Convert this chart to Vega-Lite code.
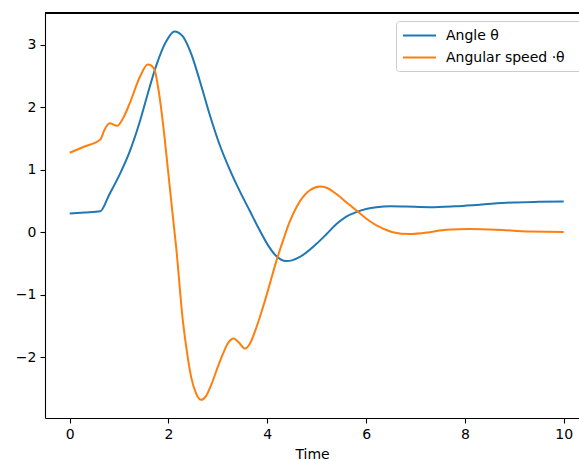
{
  "$schema": "https://vega.github.io/schema/vega-lite/v6.json",
  "autosize": {"type": "none"},
  "padding": {"left": 45, "top": 13, "right": 0, "bottom": 43},
  "width": 534,
  "height": 405,
  "background": "white",
  "config": {
    "view": {"stroke": null},
    "font": "DejaVu Sans",
    "axis": {
      "grid": false,
      "domainColor": "black",
      "domainWidth": 1.1,
      "tickColor": "black",
      "tickWidth": 1.1,
      "tickSize": 5,
      "labelFont": "DejaVu Sans",
      "labelFontSize": 14,
      "labelColor": "black",
      "labelPadding": 4,
      "titleFont": "DejaVu Sans",
      "titleFontSize": 14,
      "titleFontWeight": "normal",
      "titleColor": "black",
      "titlePadding": 6
    }
  },
  "data": {
    "values": [
      {"t": 0, "v": 0.30, "s": "Angle θ"},
      {"t": 0.3, "v": 0.315, "s": "Angle θ"},
      {"t": 0.62, "v": 0.335, "s": "Angle θ"},
      {"t": 0.8, "v": 0.60, "s": "Angle θ"},
      {"t": 1.01, "v": 0.92, "s": "Angle θ"},
      {"t": 1.21, "v": 1.28, "s": "Angle θ"},
      {"t": 1.42, "v": 1.77, "s": "Angle θ"},
      {"t": 1.55, "v": 2.13, "s": "Angle θ"},
      {"t": 1.75, "v": 2.66, "s": "Angle θ"},
      {"t": 1.96, "v": 3.06, "s": "Angle θ"},
      {"t": 2.12, "v": 3.21, "s": "Angle θ"},
      {"t": 2.29, "v": 3.13, "s": "Angle θ"},
      {"t": 2.46, "v": 2.85, "s": "Angle θ"},
      {"t": 2.63, "v": 2.43, "s": "Angle θ"},
      {"t": 2.83, "v": 1.89, "s": "Angle θ"},
      {"t": 3.03, "v": 1.41, "s": "Angle θ"},
      {"t": 3.24, "v": 1.00, "s": "Angle θ"},
      {"t": 3.44, "v": 0.66, "s": "Angle θ"},
      {"t": 3.64, "v": 0.35, "s": "Angle θ"},
      {"t": 3.8, "v": 0.10, "s": "Angle θ"},
      {"t": 4.0, "v": -0.19, "s": "Angle θ"},
      {"t": 4.18, "v": -0.38, "s": "Angle θ"},
      {"t": 4.38, "v": -0.46, "s": "Angle θ"},
      {"t": 4.5, "v": -0.45, "s": "Angle θ"},
      {"t": 4.65, "v": -0.40, "s": "Angle θ"},
      {"t": 4.99, "v": -0.19, "s": "Angle θ"},
      {"t": 5.2, "v": -0.03, "s": "Angle θ"},
      {"t": 5.4, "v": 0.13, "s": "Angle θ"},
      {"t": 5.6, "v": 0.25, "s": "Angle θ"},
      {"t": 5.8, "v": 0.32, "s": "Angle θ"},
      {"t": 6.0, "v": 0.37, "s": "Angle θ"},
      {"t": 6.21, "v": 0.40, "s": "Angle θ"},
      {"t": 6.5, "v": 0.415, "s": "Angle θ"},
      {"t": 6.8, "v": 0.41, "s": "Angle θ"},
      {"t": 7.3, "v": 0.40, "s": "Angle θ"},
      {"t": 7.8, "v": 0.415, "s": "Angle θ"},
      {"t": 8.3, "v": 0.44, "s": "Angle θ"},
      {"t": 8.97, "v": 0.475, "s": "Angle θ"},
      {"t": 9.5, "v": 0.485, "s": "Angle θ"},
      {"t": 10, "v": 0.49, "s": "Angle θ"},
      {"t": 0, "v": 1.27, "s": "Angular speed ·θ"},
      {"t": 0.3, "v": 1.37, "s": "Angular speed ·θ"},
      {"t": 0.62, "v": 1.48, "s": "Angular speed ·θ"},
      {"t": 0.7, "v": 1.63, "s": "Angular speed ·θ"},
      {"t": 0.81, "v": 1.74, "s": "Angular speed ·θ"},
      {"t": 0.96, "v": 1.70, "s": "Angular speed ·θ"},
      {"t": 1.08, "v": 1.82, "s": "Angular speed ·θ"},
      {"t": 1.21, "v": 2.05, "s": "Angular speed ·θ"},
      {"t": 1.42, "v": 2.48, "s": "Angular speed ·θ"},
      {"t": 1.58, "v": 2.68, "s": "Angular speed ·θ"},
      {"t": 1.66, "v": 2.66, "s": "Angular speed ·θ"},
      {"t": 1.72, "v": 2.59, "s": "Angular speed ·θ"},
      {"t": 1.82, "v": 2.16, "s": "Angular speed ·θ"},
      {"t": 1.92, "v": 1.52, "s": "Angular speed ·θ"},
      {"t": 1.99, "v": 0.99, "s": "Angular speed ·θ"},
      {"t": 2.09, "v": 0.24, "s": "Angular speed ·θ"},
      {"t": 2.16, "v": -0.28, "s": "Angular speed ·θ"},
      {"t": 2.29, "v": -1.41, "s": "Angular speed ·θ"},
      {"t": 2.38, "v": -1.95, "s": "Angular speed ·θ"},
      {"t": 2.46, "v": -2.32, "s": "Angular speed ·θ"},
      {"t": 2.56, "v": -2.58, "s": "Angular speed ·θ"},
      {"t": 2.66, "v": -2.68, "s": "Angular speed ·θ"},
      {"t": 2.76, "v": -2.62, "s": "Angular speed ·θ"},
      {"t": 2.87, "v": -2.43, "s": "Angular speed ·θ"},
      {"t": 3.0, "v": -2.15, "s": "Angular speed ·θ"},
      {"t": 3.1, "v": -1.95, "s": "Angular speed ·θ"},
      {"t": 3.2, "v": -1.78, "s": "Angular speed ·θ"},
      {"t": 3.32, "v": -1.70, "s": "Angular speed ·θ"},
      {"t": 3.42, "v": -1.76, "s": "Angular speed ·θ"},
      {"t": 3.55, "v": -1.86, "s": "Angular speed ·θ"},
      {"t": 3.65, "v": -1.78, "s": "Angular speed ·θ"},
      {"t": 3.78, "v": -1.52, "s": "Angular speed ·θ"},
      {"t": 3.92, "v": -1.18, "s": "Angular speed ·θ"},
      {"t": 4.05, "v": -0.83, "s": "Angular speed ·θ"},
      {"t": 4.18, "v": -0.47, "s": "Angular speed ·θ"},
      {"t": 4.32, "v": -0.13, "s": "Angular speed ·θ"},
      {"t": 4.45, "v": 0.16, "s": "Angular speed ·θ"},
      {"t": 4.59, "v": 0.40, "s": "Angular speed ·θ"},
      {"t": 4.72, "v": 0.56, "s": "Angular speed ·θ"},
      {"t": 4.86, "v": 0.67, "s": "Angular speed ·θ"},
      {"t": 5.07, "v": 0.73, "s": "Angular speed ·θ"},
      {"t": 5.2, "v": 0.71, "s": "Angular speed ·θ"},
      {"t": 5.4, "v": 0.61, "s": "Angular speed ·θ"},
      {"t": 5.6, "v": 0.48, "s": "Angular speed ·θ"},
      {"t": 5.8, "v": 0.35, "s": "Angular speed ·θ"},
      {"t": 6.0, "v": 0.22, "s": "Angular speed ·θ"},
      {"t": 6.21, "v": 0.11, "s": "Angular speed ·θ"},
      {"t": 6.4, "v": 0.04, "s": "Angular speed ·θ"},
      {"t": 6.54, "v": 0.0, "s": "Angular speed ·θ"},
      {"t": 6.88, "v": -0.03, "s": "Angular speed ·θ"},
      {"t": 7.29, "v": 0.0, "s": "Angular speed ·θ"},
      {"t": 7.62, "v": 0.04, "s": "Angular speed ·θ"},
      {"t": 8.09, "v": 0.05, "s": "Angular speed ·θ"},
      {"t": 8.64, "v": 0.04, "s": "Angular speed ·θ"},
      {"t": 9.31, "v": 0.01, "s": "Angular speed ·θ"},
      {"t": 10, "v": 0.005, "s": "Angular speed ·θ"}
    ]
  },
  "layer": [
    {
      "mark": {"type": "line", "interpolate": "monotone", "strokeWidth": 2},
      "encoding": {
        "x": {
          "field": "t", "type": "quantitative", "title": "Time",
          "scale": {"domain": [-0.5, 10.31], "nice": false, "zero": false},
          "axis": {"values": [0, 2, 4, 6, 8, 10], "format": "d"}
        },
        "y": {
          "field": "v", "type": "quantitative", "title": null,
          "scale": {"domain": [-2.97, 3.504], "nice": false, "zero": false},
          "axis": {"values": [-2, -1, 0, 1, 2, 3], "format": "d"}
        },
        "color": {
          "field": "s", "type": "nominal",
          "scale": {"domain": ["Angle θ", "Angular speed ·θ"], "range": ["#1f77b4", "#ff7f0e"]},
          "legend": {
            "title": null,
            "orient": "none",
            "legendX": 351,
            "legendY": 8,
            "symbolType": "M-1,0H3.4",
            "symbolSize": 225,
            "symbolStrokeWidth": 2,
            "labelFont": "DejaVu Sans",
            "labelFontSize": 14,
            "labelColor": "black",
            "labelOffset": 27,
            "labelExpr": "datum.label + '      \u200b'",
            "rowPadding": 6,
            "padding": 6,
            "fillColor": "white",
            "strokeColor": "#cccccc",
            "cornerRadius": 3
          }
        }
      }
    },
    {
      "mark": {"type": "rule", "color": "black", "strokeWidth": 1.1},
      "encoding": {"y": {"datum": 3.504}}
    }
  ]
}
